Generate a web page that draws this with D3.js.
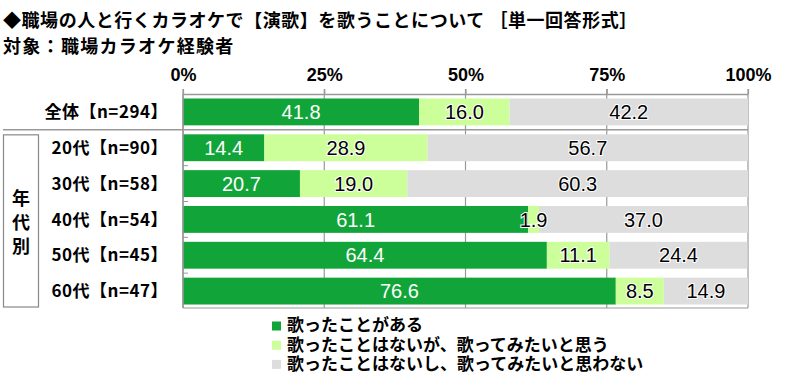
<!DOCTYPE html>
<html><head><meta charset="utf-8">
<script src="https://cdn.jsdelivr.net/npm/d3@7"></script>
<style>body{margin:0;background:#fff}svg{display:block}
.lg{font-family:"Liberation Sans","Noto Sans CJK JP",sans-serif;font-size:17px;font-weight:bold;color:#000;height:19.2px;line-height:19.2px;white-space:nowrap;overflow:visible}</style>
</head><body>
<svg id="c" width="800" height="383" font-family="Noto Sans CJK JP, Noto Sans, sans-serif"></svg>
<script>
const categories = ["全体【n=294】","20代【n=90】","30代【n=58】","40代【n=54】","50代【n=45】","60代【n=47】"];
const sungValues = [41.8,14.4,20.7,61.1,64.4,76.6];
const wantValues = [16.0,28.9,19.0,1.9,11.1,8.5];
const notValues  = [42.2,56.7,60.3,37.0,24.4,14.9];
const seriesNames = ["歌ったことがある","歌ったことはないが、歌ってみたいと思う","歌ったことはないし、歌ってみたいと思わない"];
const tickValues = [0,25,50,75,100];
const colors = ["#11a539","#ccff99","#dddddd"];
const textColors = ["#fff","#000","#000"];
const numFont = "Liberation Sans, Arial, sans-serif";

const svg = d3.select("#c");
const x = d3.scaleLinear().domain([0,100]).range([183,748]);
const y = d3.scaleBand().domain(categories).range([94,309]).paddingInner(0.25).paddingOuter(0.125);

// title
svg.append("text").attr("x",3).attr("y",27).attr("font-size",18).attr("font-weight","bold").attr("letter-spacing",0.55)
  .text("◆職場の人と行くカラオケで【演歌】を歌うことについて ［単一回答形式］");
svg.append("text").attr("x",3).attr("y",53).attr("font-size",18).attr("font-weight","bold").attr("letter-spacing",1.3)
  .text("対象：職場カラオケ経験者");

// gridlines
svg.append("g").selectAll("line").data(tickValues).join("line")
  .attr("x1",d=>x(d)).attr("x2",d=>x(d)).attr("y1",89).attr("y2",308)
  .attr("stroke","#999").attr("stroke-width",1.2);
// top axis
const ax = svg.append("g").attr("transform","translate(0,94)")
  .call(d3.axisTop(x).tickValues(tickValues).tickFormat(d=>d+"%").tickSize(5).tickSizeOuter(0));
ax.select(".domain").attr("stroke","#999").attr("stroke-width",1.5);
ax.selectAll(".tick line").attr("stroke","#999").attr("stroke-width",1.2);
ax.selectAll(".tick text").attr("font-size",18).attr("font-family",numFont).attr("font-weight","bold").attr("fill","#000").attr("dy","-0.3em");

// stacked bars
const rows = categories.map((c,i)=>({cat:c,vals:[sungValues[i],wantValues[i],notValues[i]]}));
const g = svg.append("g");
rows.forEach(r=>{
  let acc=0;
  r.vals.forEach((v,j)=>{
    const x0=acc; acc+=v;
    g.append("rect").attr("x",x(x0)).attr("y",y(r.cat)).attr("width",x(acc)-x(x0)).attr("height",y.bandwidth()).attr("fill",colors[j]);
  });
});
rows.forEach(r=>{
  let acc=0;
  r.vals.forEach((v,j)=>{
    const x0=acc; acc+=v;
    g.append("text").attr("x",(x(x0)+x(acc))/2).attr("y",y(r.cat)+y.bandwidth()/2).attr("dy","0.36em")
      .attr("text-anchor","middle").attr("font-size",20).attr("font-family",numFont)
      .attr("fill",textColors[j])
      .attr("paint-order","stroke").attr("stroke",j===0?"none":"#fff").attr("stroke-width",j===0?0:2)
      .text(v.toFixed(1));
  });
});

// left axis line and ticks
svg.append("line").attr("x1",183).attr("x2",183).attr("y1",94).attr("y2",308).attr("stroke","#999").attr("stroke-width",1.5);
categories.slice(2).forEach(c=>{
  const yy = y(c) - (y.step()-y.bandwidth())/2;
  svg.append("line").attr("x1",183).attr("x2",188).attr("y1",yy).attr("y2",yy).attr("stroke","#999");
});
// separator
const sepY = y(categories[1]) - (y.step()-y.bandwidth())/2;
svg.append("line").attr("x1",3).attr("x2",748).attr("y1",sepY).attr("y2",sepY).attr("stroke","#999").attr("stroke-width",1.5);
svg.append("line").attr("x1",183).attr("x2",748).attr("y1",308).attr("y2",308).attr("stroke","#999").attr("stroke-width",1.2);

// category labels
svg.append("g").selectAll("text").data(categories).join("text")
  .attr("x",168).attr("y",d=>y(d)+y.bandwidth()/2).attr("dy","0.36em").attr("text-anchor","end")
  .attr("font-size",17).attr("font-weight","bold").attr("letter-spacing",0.5).text(d=>d);

// group box
svg.append("rect").attr("x",3.5).attr("y",sepY+5).attr("width",35).attr("height",307-sepY-5).attr("fill","none").attr("stroke","#888").attr("stroke-width",1.2);
const gl = svg.append("text").attr("font-size",18).attr("font-weight","bold").attr("text-anchor","middle");
["年","代","別"].forEach((ch,i)=>{
  gl.append("tspan").attr("x",21).attr("y",205+i*24).text(ch);
});

// legend
seriesNames.forEach((s,i)=>{
  const ly = 326 + i*19.2;
  svg.append("rect").attr("x",272).attr("y",ly-4.5).attr("width",9).attr("height",9).attr("fill",colors[i]);
});
const fo = svg.append("foreignObject").attr("x",287).attr("y",316.4).attr("width",420).attr("height",62);
fo.append("xhtml:div").selectAll("div").data(seriesNames).join("xhtml:div").attr("class","lg").text(d=>d);
</script>
</body></html>
